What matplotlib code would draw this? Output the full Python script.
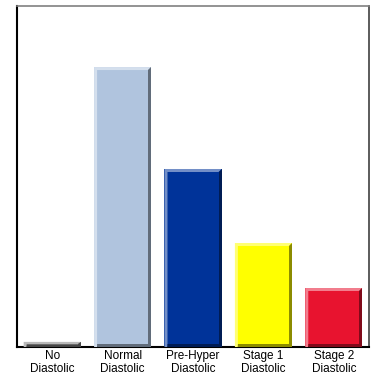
import numpy as np
import matplotlib.pyplot as plt
from matplotlib.patches import Polygon
from matplotlib.colors import to_rgb

plt.rcParams['font.family'] = ['Liberation Sans', 'DejaVu Sans']

labels = ['No\nDiastolic', 'Normal\nDiastolic', 'Pre-Hyper\nDiastolic', 'Stage 1\nDiastolic', 'Stage 2\nDiastolic']
values = [1.5, 82.1, 52.2, 30.5, 17.3]
colors = ['#808080', '#B0C4DE', '#003399', '#FFFF00', '#E8132F']

def shade(c, f):
    c = np.array(to_rgb(c))
    if f > 0:
        return tuple(c + (1 - c) * f)
    return tuple(c * (1 + f))

fig = plt.figure(figsize=(3.76, 3.77), dpi=100)
ax = fig.add_axes([17 / 376, 30 / 377, 352 / 376, 341 / 377])

x = np.arange(len(values))
w = 0.81
bars = ax.bar(x, values, width=w, color=colors, zorder=2)
ax.set_xlim(-0.5, 4.5)
ax.set_ylim(0, 100)

# bevelled edges: light on top/left, dark on right/bottom
bx = 3 / 70.4
by = 3 / 341 * 100
for b, c in zip(bars, colors):
    x0, x1 = b.get_x(), b.get_x() + b.get_width()
    h = b.get_height()
    e = min(by, h / 2)
    light = shade(c, 0.45)
    dark = shade(c, -0.45)
    ax.add_patch(Polygon([(x0, 0), (x0, h), (x1, h), (x1 - bx, h - e), (x0 + bx, h - e), (x0 + bx, 0)],
                         closed=True, facecolor=light, edgecolor='none', zorder=3))
    ax.add_patch(Polygon([(x1, h), (x1, 0), (x1 - bx, 0), (x1 - bx, h - e)],
                         closed=True, facecolor=dark, edgecolor='none', zorder=3))
    ax.add_patch(Polygon([(x0 + bx, 0), (x1, 0), (x1 - bx, e), (x0 + bx, e)],
                         closed=True, facecolor=dark, edgecolor='none', zorder=3))

ax.set_xticks(x)
ax.set_xticklabels(labels, fontsize=8.5, linespacing=1.15)
ax.tick_params(axis='x', length=0, pad=2)
ax.set_yticks([])

ax.spines['left'].set_color('black')
ax.spines['left'].set_linewidth(1.5)
ax.spines['bottom'].set_color('black')
ax.spines['bottom'].set_linewidth(1.5)
ax.spines['top'].set_color('#808080')
ax.spines['top'].set_linewidth(1.2)
ax.spines['right'].set_color('#404040')
ax.spines['right'].set_linewidth(1.2)

fig.savefig('out.png', dpi=100)
